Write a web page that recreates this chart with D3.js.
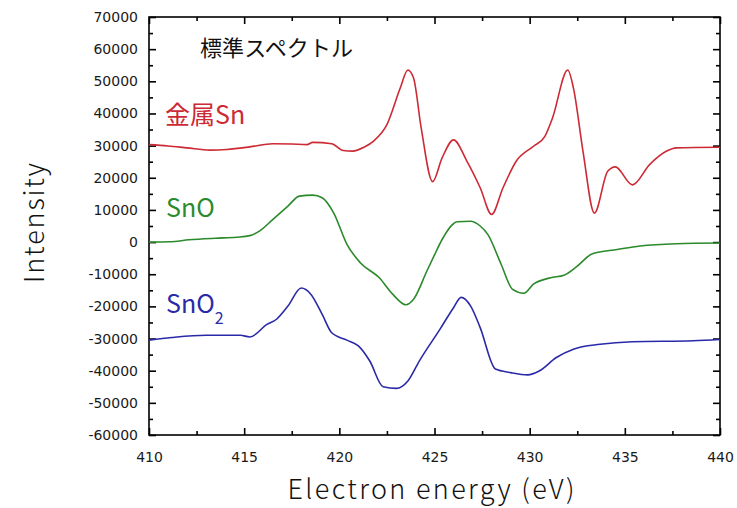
<!DOCTYPE html>
<html>
<head>
<meta charset="utf-8">
<script src="https://cdn.jsdelivr.net/npm/d3@7"></script>
<style>
  html, body { margin: 0; padding: 0; background: #fff; }
  svg { display: block; }
</style>
</head>
<body>
<svg id="chart" width="737" height="508"></svg>
<script>
// ---- data ----
const xTicks = [410, 415, 420, 425, 430, 435, 440];
const yTicks = [-60000, -50000, -40000, -30000, -20000, -10000, 0, 10000, 20000, 30000, 40000, 50000, 60000, 70000];

const snMetalE = [410.0, 411.0, 412.0, 413.2, 414.1, 415.3, 416.5, 417.5, 418.3, 418.6, 419.6, 420.2, 420.7, 421.3, 421.8, 422.5, 423.2, 423.6, 423.9, 424.3, 424.9, 425.4, 426.0, 426.7, 427.4, 428.0, 428.6, 429.3, 430.2, 430.8, 431.2, 432.0, 432.3, 432.8, 433.4, 434.1, 434.5, 435.4, 436.3, 437.2, 437.7, 440.0];
const snMetalI = [30300, 29900, 29300, 28600, 28800, 29600, 30600, 30500, 30300, 31000, 30600, 28500, 28300, 29500, 31400, 36500, 47900, 53500, 51000, 35500, 18800, 26200, 31800, 25200, 16900, 8600, 16900, 25200, 29800, 32900, 38600, 53500, 47900, 28300, 9000, 22000, 23400, 17800, 24100, 28300, 29300, 29500];

const snoE = [410.0, 411.1, 412.1, 413.5, 414.6, 415.3, 415.8, 416.5, 417.3, 417.9, 418.6, 419.1, 419.7, 420.4, 421.1, 422.1, 422.8, 423.5, 423.9, 424.6, 425.0, 425.4, 426.2, 426.9, 427.4, 427.8, 428.5, 429.1, 429.7, 430.2, 431.1, 431.8, 432.5, 433.3, 434.6, 435.8, 437.7, 440.0];
const snoI = [0, 100, 700, 1200, 1500, 2000, 3400, 7000, 11200, 14300, 14600, 13800, 9100, -700, -6400, -11100, -16200, -19500, -17800, -9000, -4000, 800, 6300, 6500, 5000, 2400, -6900, -14700, -15900, -13100, -11100, -10300, -7500, -3600, -2300, -1200, -500, -300];

const sno2E = [410.0, 411.2, 413.0, 414.8, 415.3, 416.2, 416.7, 417.3, 418.0, 418.5, 419.1, 419.6, 420.4, 421.0, 421.6, 422.3, 423.0, 423.6, 424.2, 425.3, 426.0, 426.4, 426.9, 427.4, 428.2, 429.0, 429.9, 430.5, 431.4, 432.3, 433.7, 435.4, 438.6, 440.0];
const sno2I = [-30500, -29700, -29000, -29000, -29500, -25600, -24000, -19900, -14300, -16200, -22500, -28200, -30500, -32300, -37000, -45000, -45500, -43200, -37000, -27000, -20400, -17200, -19900, -26600, -39500, -40600, -41300, -40100, -35900, -33300, -31800, -31000, -30700, -30300];

const seriesNames = ["金属Sn", "SnO", "SnO2"];
const titleText = "標準スペクトル";
const xTitle = "Electron energy (eV)";
const yTitle = "Intensity";

// ---- layout ----
const svg = d3.select("#chart");
const L = 149, R = 720, T = 17, B = 435;
const x = d3.scaleLinear().domain([410, 440]).range([L, R]);
const y = d3.scaleLinear().domain([-60000, 70000]).range([B, T]);

const colors = { red: "#cc2a35", green: "#2b8a2b", blue: "#2a2aa8" };

const xMinor = d3.range(410, 440.01, 2.5).filter(v => v % 5 !== 0);
const yMinor = d3.range(-55000, 70000, 10000);

const labelFont = "'DejaVu Sans', sans-serif";

function styleAxis(g) {
  g.select(".domain").remove();
  g.selectAll(".tick line").attr("stroke", "#000").attr("stroke-width", 1.6);
  g.selectAll(".tick text").attr("fill", "#1a1a1a").attr("font-family", labelFont).attr("font-size", 14);
}

// bottom
svg.append("g").attr("transform", `translate(0,${B})`)
  .call(d3.axisBottom(x).tickValues(xTicks).tickSize(-7).tickPadding(17).tickFormat(d3.format("d")))
  .call(styleAxis);
svg.append("g").attr("transform", `translate(0,${B})`)
  .call(d3.axisBottom(x).tickValues(xMinor).tickSize(-4).tickFormat(""))
  .call(styleAxis);
// top
svg.append("g").attr("transform", `translate(0,${T})`)
  .call(d3.axisTop(x).tickValues(xTicks).tickSize(-7).tickFormat(""))
  .call(styleAxis);
svg.append("g").attr("transform", `translate(0,${T})`)
  .call(d3.axisTop(x).tickValues(xMinor).tickSize(-4).tickFormat(""))
  .call(styleAxis);
// left
svg.append("g").attr("transform", `translate(${L},0)`)
  .call(d3.axisLeft(y).tickValues(yTicks).tickSize(-7).tickPadding(11).tickFormat(d => String(d)))
  .call(styleAxis);
svg.append("g").attr("transform", `translate(${L},0)`)
  .call(d3.axisLeft(y).tickValues(yMinor).tickSize(-4).tickFormat(""))
  .call(styleAxis);
// right
svg.append("g").attr("transform", `translate(${R},0)`)
  .call(d3.axisRight(y).tickValues(yTicks).tickSize(-7).tickFormat(""))
  .call(styleAxis);
svg.append("g").attr("transform", `translate(${R},0)`)
  .call(d3.axisRight(y).tickValues(yMinor).tickSize(-4).tickFormat(""))
  .call(styleAxis);

// frame
svg.append("rect").attr("x", L).attr("y", T).attr("width", R - L).attr("height", B - T)
  .attr("fill", "none").attr("stroke", "#000").attr("stroke-width", 1.6);

// lines
const line = d3.line().x(d => x(d[0])).y(d => y(d[1])).curve(d3.curveMonotoneX);
const series = [
  { e: snMetalE, v: snMetalI, c: colors.red },
  { e: snoE, v: snoI, c: colors.green },
  { e: sno2E, v: sno2I, c: colors.blue }
];
series.forEach(s => {
  svg.append("path").datum(s.e.map((e, i) => [e, s.v[i]]))
    .attr("d", line).attr("fill", "none").attr("stroke", s.c).attr("stroke-width", 1.6);
});

const cjk = "'Noto Sans CJK JP', 'Noto Sans', sans-serif";

// title in plot
svg.append("text").attr("x", 200).attr("y", 56).attr("font-family", cjk).attr("font-size", 22)
  .attr("textLength", 153).attr("lengthAdjust", "spacing")
  .attr("fill", "#111").text(titleText);

// series labels
svg.append("text").attr("x", 165).attr("y", 124).attr("font-family", cjk).attr("font-size", 25)
  .attr("fill", colors.red).text(seriesNames[0]);
svg.append("text").attr("x", 166).attr("y", 217).attr("font-family", cjk).attr("font-size", 25)
  .attr("fill", colors.green).text(seriesNames[1]);
const t3 = svg.append("text").attr("x", 166).attr("y", 313).attr("font-family", cjk).attr("font-size", 25)
  .attr("fill", colors.blue);
t3.append("tspan").text(seriesNames[2].slice(0, 3));
t3.append("tspan").attr("font-size", 16).attr("dy", 11).text(seriesNames[2].slice(3));

// axis titles
svg.append("text").attr("x", 431).attr("y", 499).attr("text-anchor", "middle")
  .attr("font-family", cjk).attr("font-weight", 300).attr("font-size", 27)
  .attr("textLength", 287).attr("lengthAdjust", "spacing")
  .attr("fill", "#111").text(xTitle);
svg.append("text").attr("transform", "translate(44,223) rotate(-90)").attr("text-anchor", "middle")
  .attr("font-family", cjk).attr("font-weight", 300).attr("font-size", 27)
  .attr("textLength", 120).attr("lengthAdjust", "spacing")
  .attr("fill", "#111").text(yTitle);
</script>
</body>
</html>
